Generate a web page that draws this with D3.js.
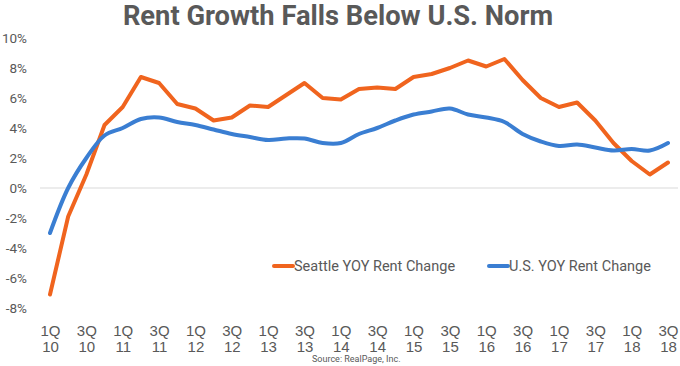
<!DOCTYPE html>
<html><head><meta charset="utf-8">
<script src="https://cdn.jsdelivr.net/npm/d3@7"></script>
<style>body{margin:0;background:#fff;}svg{display:block;font-family:Roboto,"Open Sans",sans-serif;}</style>
</head><body><svg id="c" width="680" height="366"></svg>
<script>
const quarters = ["1Q10","2Q10","3Q10","4Q10","1Q11","2Q11","3Q11","4Q11","1Q12","2Q12","3Q12","4Q12","1Q13","2Q13","3Q13","4Q13","1Q14","2Q14","3Q14","4Q14","1Q15","2Q15","3Q15","4Q15","1Q16","2Q16","3Q16","4Q16","1Q17","2Q17","3Q17","4Q17","1Q18","2Q18","3Q18"];
const seattle = [-7.1,-1.9,0.9,4.2,5.4,7.4,7.0,5.6,5.3,4.5,4.7,5.5,5.4,6.2,7.0,6.0,5.9,6.6,6.7,6.6,7.4,7.6,8.0,8.5,8.1,8.6,7.2,6.0,5.4,5.7,4.5,3.0,1.8,0.9,1.7];
const us = [-3.0,0.0,2.0,3.5,4.0,4.6,4.7,4.4,4.2,3.9,3.6,3.4,3.2,3.3,3.3,3.0,3.0,3.6,4.0,4.5,4.9,5.1,5.3,4.9,4.7,4.4,3.6,3.1,2.8,2.9,2.7,2.5,2.6,2.5,3.0];
const yTicks = [-8,-6,-4,-2,0,2,4,6,8,10];
const seriesNames = ["Seattle YOY Rent Change","U.S. YOY Rent Change"];
const colors = ["#F0641E","#3A7ED2"];

const svg = d3.select("#c");
const x = d3.scalePoint().domain(quarters).range([50,668]);
const y = d3.scaleLinear().domain([-8,10]).range([308,38]);
const grey = "#595959";

svg.append("text").attr("x",338).attr("y",25).attr("text-anchor","middle")
  .attr("font-size",27.3).attr("font-weight","bold").attr("fill",grey)
  .text("Rent Growth Falls Below U.S. Norm");

// zero line
svg.append("line").attr("x1",40).attr("x2",678).attr("y1",y(0)).attr("y2",y(0))
  .attr("stroke","#d9d9d9").attr("stroke-width",1);

// y axis labels
const yAxis = d3.axisLeft(y).tickValues(yTicks).tickSize(0).tickPadding(0).tickFormat(d=>d+"%");
const ya = svg.append("g").attr("transform","translate(27,0)").call(yAxis);
ya.select(".domain").remove();
ya.selectAll("text").attr("font-size",13.5).attr("fill",grey).attr("font-family","Roboto,sans-serif");

// x axis labels
const xAxis = d3.axisBottom(x).tickValues(quarters.filter((d,i)=>i%2===0)).tickSize(0).tickFormat("");
const xa = svg.append("g").attr("transform","translate(0,318)").call(xAxis);
xa.select(".domain").remove();
xa.selectAll(".tick").each(function(d){
  const g = d3.select(this);
  g.append("text").attr("y",17.5).attr("text-anchor","middle").attr("font-size",15).attr("fill",grey).text(d.slice(0,2));
  g.append("text").attr("y",33.5).attr("text-anchor","middle").attr("font-size",15).attr("fill",grey).text(d.slice(2));
});

const lineS = d3.line().x((d,i)=>x(quarters[i])).y(d=>y(d)).curve(d3.curveLinear);
const lineU = d3.line().x((d,i)=>x(quarters[i])).y(d=>y(d)).curve(d3.curveCatmullRom.alpha(0.5));
svg.append("path").datum(seattle).attr("d",lineS).attr("fill","none").attr("stroke",colors[0]).attr("stroke-width",4).attr("stroke-linejoin","round").attr("stroke-linecap","round");
svg.append("path").datum(us).attr("d",lineU).attr("fill","none").attr("stroke",colors[1]).attr("stroke-width",4).attr("stroke-linejoin","round").attr("stroke-linecap","round");

// legend
const legX = [274,489];
seriesNames.forEach((n,i)=>{
  svg.append("line").attr("x1",legX[i]).attr("x2",legX[i]+19).attr("y1",266).attr("y2",266)
    .attr("stroke",colors[i]).attr("stroke-width",4).attr("stroke-linecap","round");
  svg.append("text").attr("x",legX[i]+20).attr("y",271).attr("font-size",14.5).attr("fill",grey).text(n);
});

svg.append("text").attr("x",312).attr("y",362).attr("font-size",9).attr("fill",grey).text("Source: RealPage, Inc.");
</script></body></html>
